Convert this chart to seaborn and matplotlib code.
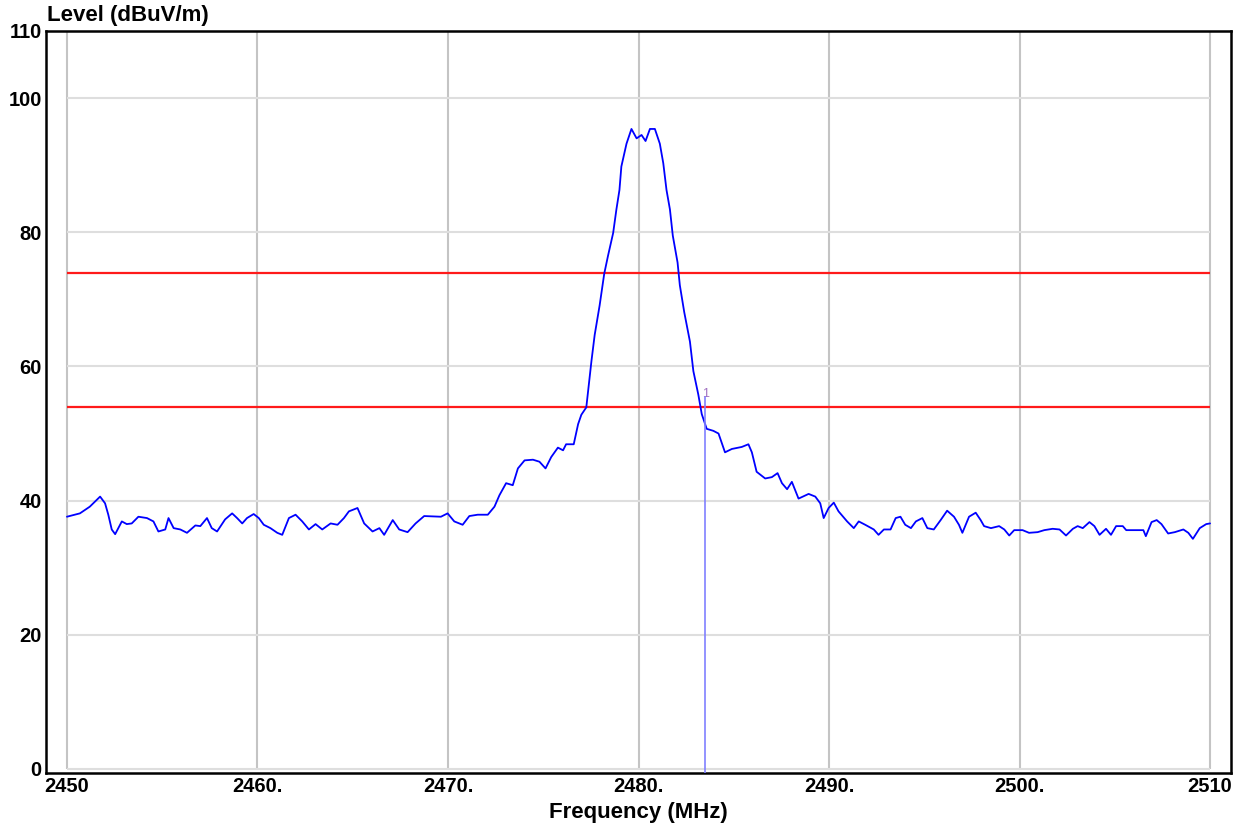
import matplotlib
matplotlib.use("Agg")
import matplotlib.pyplot as plt
import seaborn as sns
import pandas as pd

# spectrum trace
freq_mhz = [2450.0, 2450.68, 2451.2, 2451.74, 2452.0, 2452.17, 2452.35, 2452.53, 2452.88, 2453.14,
            2453.4, 2453.75, 2454.2, 2454.54, 2454.8, 2455.16, 2455.33, 2455.6, 2455.95, 2456.3,
            2456.74, 2457.0, 2457.35, 2457.6, 2457.88, 2458.3, 2458.67, 2458.93, 2459.2, 2459.45,
            2459.8, 2460.07, 2460.33, 2460.68, 2461.04, 2461.3, 2461.65, 2462.0, 2462.35, 2462.7,
            2463.05, 2463.4, 2463.84, 2464.2, 2464.54, 2464.8, 2465.25, 2465.6, 2466.04, 2466.4,
            2466.65, 2467.1, 2467.44, 2467.88, 2468.3, 2468.75, 2469.63, 2469.98, 2470.33, 2470.77,
            2471.12, 2471.56, 2472.09, 2472.44, 2472.7, 2473.05, 2473.4, 2473.67, 2474.02, 2474.46,
            2474.8, 2475.12, 2475.42, 2475.77, 2476.04, 2476.2, 2476.6, 2476.83, 2477.0, 2477.26,
            2477.53, 2477.7, 2477.96, 2478.2, 2478.4, 2478.67, 2478.84, 2479.0, 2479.1, 2479.37,
            2479.63, 2479.9, 2480.16, 2480.37, 2480.6, 2480.86, 2481.12, 2481.3, 2481.47, 2481.65,
            2481.8, 2482.05, 2482.17, 2482.4, 2482.7, 2482.88, 2483.14, 2483.32, 2483.58, 2483.93,
            2484.2, 2484.54, 2484.9, 2485.42, 2485.77, 2485.95, 2486.2, 2486.65, 2487.0, 2487.3,
            2487.53, 2487.8, 2488.05, 2488.4, 2488.93, 2489.28, 2489.54, 2489.72, 2489.98, 2490.25,
            2490.5, 2490.95, 2491.3, 2491.56, 2491.9, 2492.35, 2492.6, 2492.88, 2493.23, 2493.5,
            2493.75, 2494.0, 2494.3, 2494.56, 2494.9, 2495.16, 2495.5, 2495.86, 2496.2, 2496.56,
            2496.82, 2497.0, 2497.35, 2497.7, 2497.96, 2498.14, 2498.5, 2498.93, 2499.2, 2499.46,
            2499.72, 2500.16, 2500.5, 2500.95, 2501.3, 2501.74, 2502.1, 2502.44, 2502.8, 2503.05,
            2503.32, 2503.67, 2503.93, 2504.2, 2504.54, 2504.8, 2505.07, 2505.42, 2505.6, 2506.04,
            2506.5, 2506.63, 2506.93, 2507.2, 2507.45, 2507.8, 2508.15, 2508.6, 2508.86, 2509.1,
            2509.46, 2509.8, 2510.0]
level_dbuv = [37.6, 38.1, 39.1, 40.6, 39.6, 37.9, 35.7, 35.0, 36.9, 36.5,
              36.6, 37.6, 37.4, 36.9, 35.4, 35.7, 37.4, 35.9, 35.7, 35.2,
              36.3, 36.2, 37.4, 35.9, 35.4, 37.2, 38.1, 37.4, 36.6, 37.4,
              38.0, 37.4, 36.4, 35.9, 35.2, 34.9, 37.4, 37.9, 36.9, 35.7,
              36.5, 35.7, 36.6, 36.4, 37.4, 38.4, 38.9, 36.6, 35.4, 35.9,
              34.9, 37.1, 35.7, 35.3, 36.6, 37.7, 37.6, 38.1, 36.9, 36.4,
              37.7, 37.9, 37.9, 39.1, 40.8, 42.6, 42.3, 44.8, 46.0, 46.1,
              45.8, 44.8, 46.5, 47.9, 47.5, 48.4, 48.4, 51.4, 52.8, 53.9,
              60.8, 64.7, 69.1, 73.8, 76.5, 79.9, 83.4, 86.3, 89.8, 93.2,
              95.4, 94.0, 94.5, 93.6, 95.4, 95.4, 93.2, 90.3, 86.3, 83.4,
              79.5, 75.5, 72.1, 68.1, 63.7, 59.3, 55.8, 52.9, 50.7, 50.4,
              50.0, 47.2, 47.7, 48.0, 48.4, 47.2, 44.3, 43.3, 43.5, 44.1,
              42.6, 41.7, 42.8, 40.3, 41.0, 40.6, 39.6, 37.4, 38.9, 39.7,
              38.4, 36.9, 35.9, 36.9, 36.4, 35.7, 34.9, 35.7, 35.7, 37.4,
              37.6, 36.4, 35.9, 36.9, 37.4, 35.9, 35.7, 37.1, 38.5, 37.6,
              36.4, 35.2, 37.6, 38.2, 37.1, 36.2, 35.9, 36.2, 35.7, 34.8,
              35.6, 35.6, 35.2, 35.3, 35.6, 35.8, 35.7, 34.8, 35.8, 36.2,
              35.9, 36.8, 36.2, 34.9, 35.8, 34.9, 36.2, 36.2, 35.6, 35.6,
              35.6, 34.7, 36.8, 37.1, 36.5, 35.1, 35.3, 35.7, 35.2, 34.3,
              35.9, 36.5, 36.6]

limit_levels = [74, 54]
marker_freq = 2483.5
marker_level = 55.5
x_ticks = [2450, 2460, 2470, 2480, 2490, 2500, 2510]
x_tick_labels = ["2450", "2460.", "2470.", "2480.", "2490.", "2500.", "2510"]
y_ticks = [0, 20, 40, 60, 80, 100, 110]
y_grid = [0, 20, 40, 60, 80, 100]

df = pd.DataFrame({"freq": freq_mhz, "level": level_dbuv})

sns.set_style("white")
plt.rcParams["font.family"] = ["Liberation Sans", "DejaVu Sans"]
plt.rcParams["text.color"] = "black"
plt.rcParams["axes.labelcolor"] = "black"
plt.rcParams["xtick.color"] = "black"
plt.rcParams["ytick.color"] = "black"

fig = plt.figure(figsize=(12.48, 8.36), dpi=100)
ax = fig.add_axes([46 / 1248, 1 - 773 / 836, (1231 - 46) / 1248, (773 - 31) / 836])

x0, x1 = x_ticks[0], x_ticks[-1]

# grid, only inside the span 2450..2510 / 0..110
ax.vlines(x_ticks, 0, 110, color="#c4c4c4", lw=1.5, zorder=0)
ax.hlines(y_grid, x0, x1, color="#dedede", lw=1.5, zorder=0)

# limit lines
ax.hlines(limit_levels, x0, x1, color="#ff1a1a", lw=1.6, zorder=2)

sns.lineplot(data=df, x="freq", y="level", ax=ax, color="#0000ff", lw=1.3, zorder=3)

# marker 1
ax.plot([marker_freq, marker_freq], [-1, marker_level], color="#8080ff", lw=1.2, zorder=4)
ax.text(marker_freq, marker_level - 0.5, "1", color="#a070c0", fontsize=9,
        ha="center", va="bottom")

ax.set_xlim(2448.9, 2511.1)
ax.set_ylim(-0.6, 110)
ax.set_xticks(x_ticks)
ax.set_xticklabels(x_tick_labels)
ax.set_yticks(y_ticks)
ax.set_yticklabels([str(v) for v in y_ticks])
ax.tick_params(length=0, labelsize=14.5, pad=3, labelcolor="black")
for lab in ax.get_xticklabels() + ax.get_yticklabels():
    lab.set_fontweight("bold")
for s in ax.spines.values():
    s.set_color("black")
    s.set_linewidth(1.8)

ax.set_xlabel("Frequency (MHz)", fontsize=16, fontweight="bold", labelpad=4, color="black")
ax.set_ylabel("")
fig.text(47 / 1248, 1 - 16 / 836, "Level (dBuV/m)", fontsize=16, fontweight="bold",
         ha="left", va="center", color="black")

fig.savefig("out.png", dpi=100, facecolor="white")
